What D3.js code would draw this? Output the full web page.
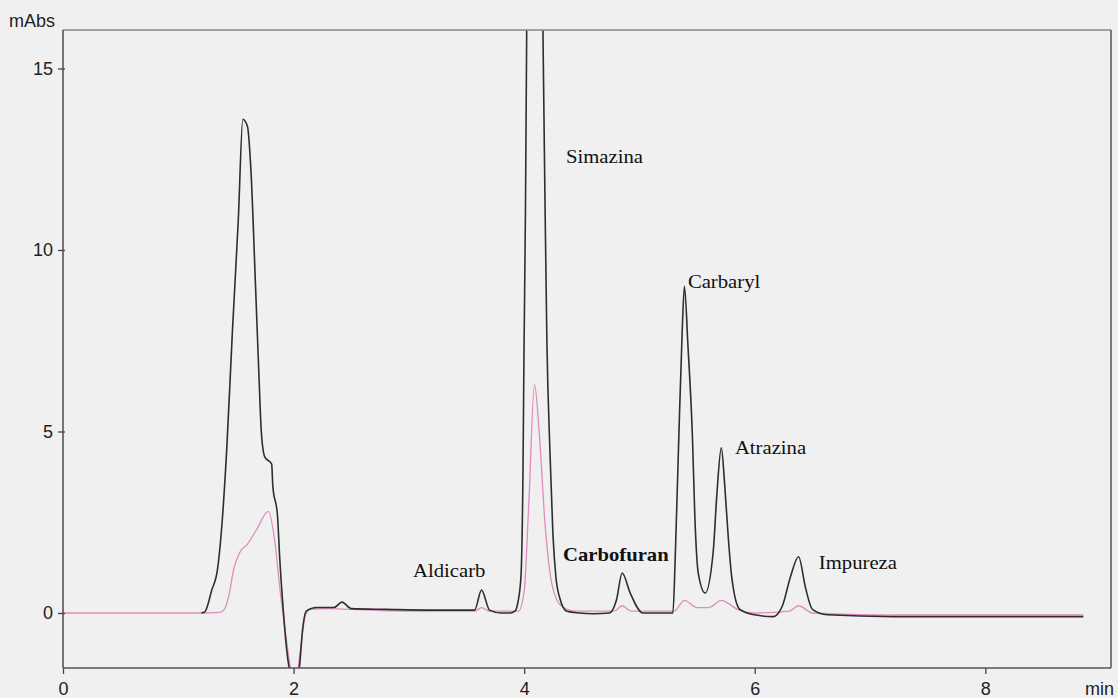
<!DOCTYPE html>
<html>
<head>
<meta charset="utf-8">
<script src="https://cdn.jsdelivr.net/npm/d3@7"></script>
<style>
  html, body { margin: 0; padding: 0; background: #f0f0f0; }
  svg { display: block; }
</style>
</head>
<body>
<svg id="chart" width="1118" height="698"></svg>
<script>
// Chromatogram: UV absorbance (mAbs) versus retention time (min)

// Retention time / absorbance pairs for the sample trace (black)
const sampleTime = [
  1.20, 1.23, 1.29, 1.34, 1.38, 1.42, 1.47, 1.52, 1.56, 1.60, 1.63, 1.67, 1.70, 1.72, 1.75, 1.81, 1.82,
  1.86, 1.88, 1.91, 1.94, 1.98, 2.01, 2.05, 2.08, 2.11, 2.20, 2.35, 2.42, 2.50, 2.80, 3.20, 3.50, 3.57,
  3.63, 3.70, 3.80, 3.88, 3.92, 3.946, 3.972, 3.99, 3.998, 4.011, 4.024, 4.05, 4.09, 4.129, 4.163, 4.18,
  4.197, 4.223, 4.249, 4.275, 4.31, 4.37, 4.48, 4.60, 4.74, 4.80, 4.85, 4.92, 5.03, 5.20, 5.29, 5.31,
  5.34, 5.37, 5.39, 5.42, 5.46, 5.48, 5.51, 5.57, 5.64, 5.67, 5.71, 5.74, 5.77, 5.80, 5.87, 6.00, 6.16,
  6.24, 6.31, 6.38, 6.44, 6.50, 6.63, 7.20, 8.00, 8.85
];
const sampleAbs = [
  0.00, 0.03, 0.63, 1.20, 2.50, 4.50, 7.80, 10.8, 13.6, 13.4, 12.2, 9.00, 6.50, 5.00, 4.30, 4.10, 3.50,
  2.70, 1.50, 0.10, -1.00, -1.80, -2.00, -1.50, -0.40, 0.05, 0.15, 0.15, 0.30, 0.12, 0.10, 0.08, 0.08, 0.08,
  0.63, 0.08, 0.00, 0.00, 0.05, 0.30, 1.00, 4.00, 7.00, 11.0, 17.0, 26.0, 30.0, 26.0, 16.0, 11.5,
  7.50, 4.50, 2.20, 1.00, 0.40, 0.05, 0.00, -0.02, 0.00, 0.35, 1.10, 0.55, 0.00, 0.00, 0.00, 1.50,
  4.70, 7.70, 9.00, 7.40, 4.80, 2.70, 1.10, 0.55, 1.70, 3.20, 4.55, 3.50, 2.10, 1.00, 0.10, -0.05, -0.10,
  0.20, 1.00, 1.55, 0.70, 0.10, -0.05, -0.10, -0.10, -0.10
];

// Retention time / absorbance pairs for the standard trace (pink)
const standardTime = [
  0.00, 1.20, 1.36, 1.40, 1.44, 1.48, 1.53, 1.60, 1.68, 1.78, 1.84, 1.88, 1.93, 1.98, 2.02, 2.06, 2.10,
  2.14, 2.30, 2.50, 3.00, 3.57, 3.63, 3.70, 3.95, 4.00, 4.04, 4.09, 4.13, 4.18, 4.24, 4.32, 4.45, 4.78,
  4.85, 4.93, 5.30, 5.39, 5.50, 5.60, 5.71, 5.85, 6.00, 6.30, 6.38, 6.50, 7.00, 8.85
];
const standardAbs = [
  0.00, 0.00, 0.02, 0.10, 0.50, 1.20, 1.65, 1.90, 2.30, 2.80, 1.90, 0.70, -0.55, -1.60, -1.80, -1.00, -0.10,
  0.10, 0.12, 0.10, 0.05, 0.05, 0.15, 0.05, 0.05, 0.60, 3.00, 6.30, 5.00, 2.50, 0.80, 0.20, 0.05, 0.05,
  0.20, 0.05, 0.05, 0.35, 0.15, 0.15, 0.35, 0.10, 0.00, 0.05, 0.20, 0.00, -0.05, -0.05
];

// Peak annotations
const peakNames = ["Aldicarb", "Simazina", "Carbofuran", "Carbaryl", "Atrazina", "Impureza"];
const peakLabelTime = [3.036, 4.363, 4.337, 5.42, 5.828, 6.556];
const peakLabelAbs = [1.157, 12.56, 1.60, 9.12, 4.55, 1.38];
const peakLabelBold = [false, false, true, false, false, false];

// Axis ticks
const timeTicks = [0, 2, 4, 6, 8];
const absTicks = [0, 5, 10, 15];

const svg = d3.select("#chart");
const plotLeft = 63, plotRight = 1111, plotTop = 30, plotBottom = 668;
const sansFont = "'Liberation Sans', Arial, sans-serif";

const x = d3.scaleLinear().domain([0, 9.09]).range([plotLeft, plotRight]);
const y = d3.scaleLinear().domain([-1.515, 16.06]).range([plotBottom, plotTop]);

svg.append("defs").append("clipPath").attr("id", "plot-clip")
  .append("rect")
  .attr("x", plotLeft).attr("y", plotTop)
  .attr("width", plotRight - plotLeft).attr("height", plotBottom - plotTop);

const line = d3.line()
  .x(d => x(d[0]))
  .y(d => y(d[1]))
  .curve(d3.curveMonotoneX);

const plot = svg.append("g").attr("clip-path", "url(#plot-clip)");

plot.append("path")
  .datum(d3.zip(standardTime, standardAbs))
  .attr("d", line)
  .attr("fill", "none")
  .attr("stroke", "#e08cbf")
  .attr("stroke-width", 1.3);

plot.append("path")
  .datum(d3.zip(sampleTime, sampleAbs))
  .attr("d", line)
  .attr("fill", "none")
  .attr("stroke", "#2e2e2e")
  .attr("stroke-width", 1.6);

// Frame: top and right borders
svg.append("line")
  .attr("x1", plotLeft).attr("x2", plotRight).attr("y1", plotTop).attr("y2", plotTop)
  .attr("stroke", "#8a8a8a").attr("stroke-width", 1.3);
svg.append("line")
  .attr("x1", plotRight).attr("x2", plotRight).attr("y1", plotTop).attr("y2", plotBottom)
  .attr("stroke", "#555").attr("stroke-width", 1.5);

// Axes
const xAxis = d3.axisBottom(x).tickValues(timeTicks).tickSize(6).tickSizeOuter(0).tickPadding(8);
const yAxis = d3.axisLeft(y).tickValues(absTicks).tickSize(5).tickSizeOuter(0).tickPadding(5);

const gx = svg.append("g").attr("transform", `translate(0,${plotBottom})`).call(xAxis);
const gy = svg.append("g").attr("transform", `translate(${plotLeft},0)`).call(yAxis);

gx.select(".domain").attr("d", `M${plotLeft},0H${plotRight}`);
gy.select(".domain").attr("d", `M0,${plotBottom}V${plotTop}`);

[gx, gy].forEach(g => {
  g.select(".domain").attr("stroke", "#555").attr("stroke-width", 1.6);
  g.selectAll(".tick line").attr("stroke", "#444").attr("stroke-width", 1.3);
  g.selectAll(".tick text")
    .attr("fill", "#222")
    .style("font-family", sansFont)
    .style("font-size", "18px");
});
gy.selectAll(".tick line").attr("x2", 2).attr("x1", -5);

// Axis units
svg.append("text")
  .attr("x", 9).attr("y", 27)
  .attr("fill", "#222")
  .style("font-family", sansFont)
  .style("font-size", "18px")
  .text("mAbs");

svg.append("text")
  .attr("x", 1085).attr("y", 695)
  .attr("fill", "#222")
  .style("font-family", sansFont)
  .style("font-size", "18px")
  .text("min");

// Peak labels (serif, slightly widened)
svg.append("g").selectAll("text")
  .data(peakNames)
  .join("text")
  .attr("transform", (d, i) => `translate(${x(peakLabelTime[i])},${y(peakLabelAbs[i])}) scale(1.15,1)`)
  .attr("dy", "0.35em")
  .attr("fill", "#111")
  .style("font-family", "'Liberation Serif', 'Times New Roman', serif")
  .style("font-size", "18px")
  .style("font-weight", (d, i) => peakLabelBold[i] ? "bold" : "normal")
  .text(d => d);
</script>
</body>
</html>
